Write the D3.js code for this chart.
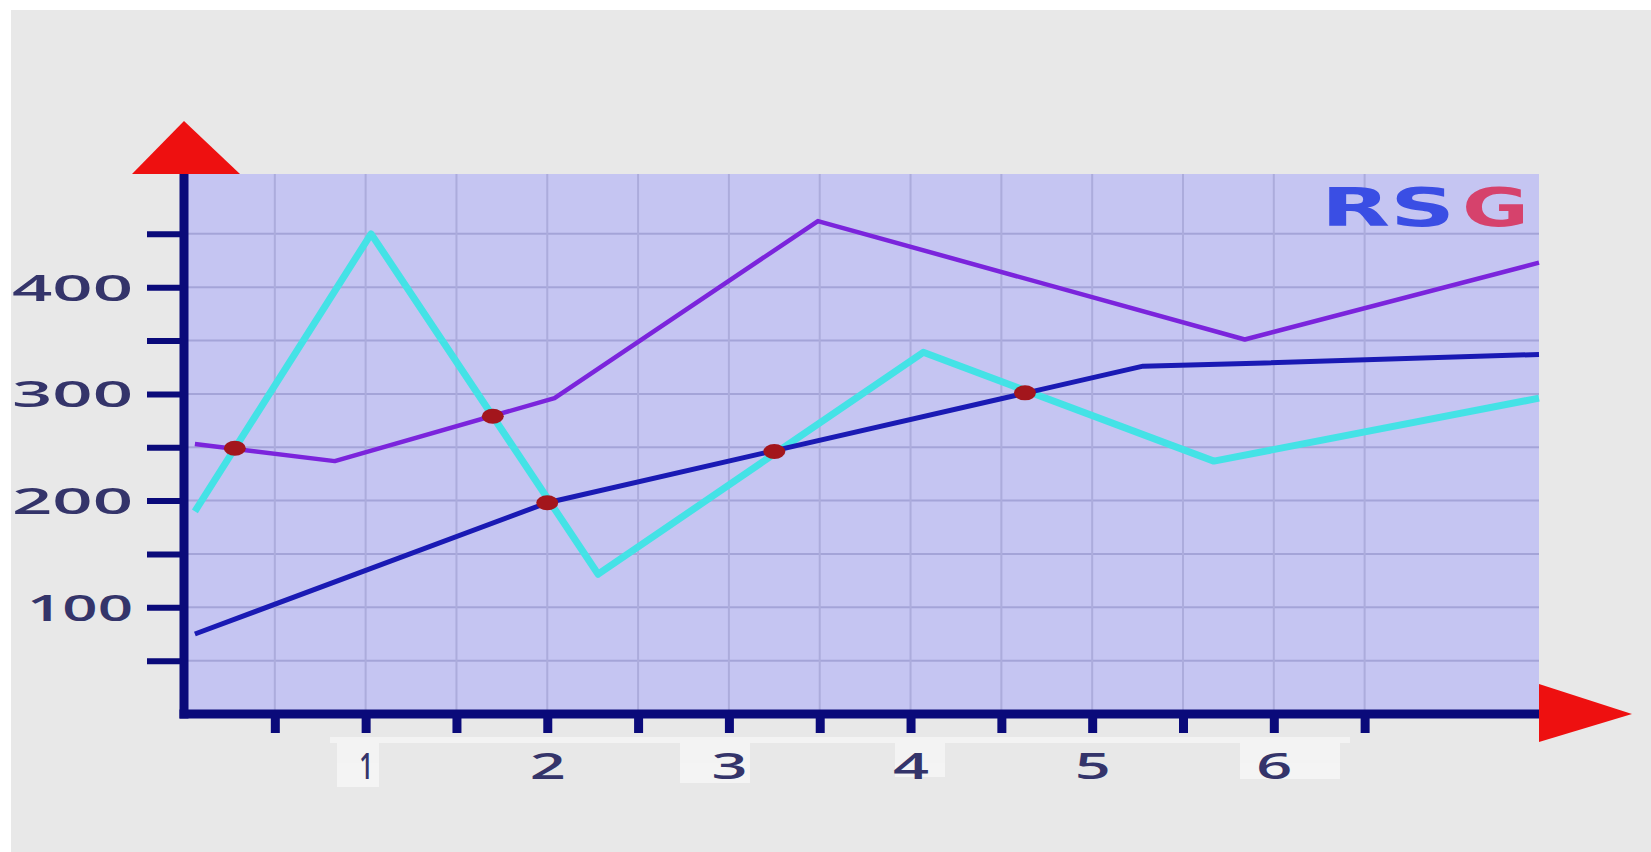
<!DOCTYPE html>
<html>
<head>
<meta charset="utf-8">
<script src="https://cdn.jsdelivr.net/npm/d3@7"></script>
<style>
  html, body { margin: 0; padding: 0; background: #e8e8e8; }
  svg { display: block; }
</style>
</head>
<body>
<svg id="chart" width="1651" height="852"></svg>
<script>
// ---- data ----
const purpleX = [0.06, 0.83, 2.04, 3.49, 5.84, 7.46];
const purpleY = [253, 237, 296, 462, 351, 423];
const cyanX   = [0.06, 1.03, 2.28, 4.07, 5.67, 7.46];
const cyanY   = [190, 450, 131, 339, 237, 296];
const blueX   = [0.06, 2.0, 5.28, 5.95, 7.46];
const blueY   = [75, 198, 326, 329, 337];
const dotX    = [0.28, 1.70, 2.0, 3.25, 4.63];
const dotY    = [249, 279, 198, 246, 301];
const xTicks  = [0.5, 1, 1.5, 2, 2.5, 3, 3.5, 4, 4.5, 5, 5.5, 6, 6.5];
const xLabels = [1, 2, 3, 4, 5, 6];
const yTicks  = [50, 100, 150, 200, 250, 300, 350, 400, 450];
const yLabels = [100, 200, 300, 400];
const brand   = ["RS", "G"];

// ---- layout ----
const svg = d3.select("#chart");
const axisX = 184, axisY = 714, plotRight = 1539, plotTop = 174;
const x = d3.scaleLinear().domain([0, 7.46]).range([axisX, plotRight]);
const y = d3.scaleLinear().domain([0, 500]).range([axisY, 180.5]);

// background artefacts (white borders)
svg.append("rect").attr("x", 0).attr("y", 0).attr("width", 1651).attr("height", 852).attr("fill", "#e8e8e8");
svg.append("rect").attr("x", 0).attr("y", 0).attr("width", 1651).attr("height", 10).attr("fill", "#ffffff");
svg.append("rect").attr("x", 0).attr("y", 0).attr("width", 11).attr("height", 852).attr("fill", "#ffffff");

// plot area
svg.append("rect")
  .attr("x", axisX + 4).attr("y", plotTop)
  .attr("width", plotRight - axisX - 4).attr("height", axisY - plotTop)
  .attr("fill", "#c5c5f2");

// grid
const grid = svg.append("g");
grid.selectAll("line.h").data(yTicks).join("line")
  .attr("x1", axisX).attr("x2", plotRight)
  .attr("y1", d => y(d)).attr("y2", d => y(d))
  .attr("stroke", "#a4a4d8").attr("stroke-width", 2);
grid.selectAll("line.v").data(xTicks).join("line")
  .attr("y1", plotTop).attr("y2", axisY)
  .attr("x1", d => x(d)).attr("x2", d => x(d))
  .attr("stroke", "#acacdc").attr("stroke-width", 2);

// label backing artefacts
const back = svg.append("g").attr("fill", "#ffffff").attr("opacity", 0.5);
back.append("rect").attr("x", 330).attr("y", 737).attr("width", 1020).attr("height", 6);
back.append("rect").attr("x", 337).attr("y", 737).attr("width", 42).attr("height", 50);
back.append("rect").attr("x", 680).attr("y", 737).attr("width", 70).attr("height", 46);
back.append("rect").attr("x", 895).attr("y", 737).attr("width", 50).attr("height", 40);
back.append("rect").attr("x", 1240).attr("y", 737).attr("width", 100).attr("height", 42);

// lines
const line = d3.line().x(d => x(d[0])).y(d => y(d[1]));
const series = [
  { xs: cyanX, ys: cyanY, color: "#44e2e6", w: 7 },
  { xs: purpleX, ys: purpleY, color: "#7b24dc", w: 4.5 },
  { xs: blueX, ys: blueY, color: "#1a1ab4", w: 5 }
];
series.forEach(s => {
  svg.append("path")
    .datum(d3.zip(s.xs, s.ys))
    .attr("d", line)
    .attr("fill", "none")
    .attr("stroke", s.color)
    .attr("stroke-width", s.w)
    .attr("stroke-linejoin", "round");
});

// dots
svg.selectAll("ellipse.dot").data(d3.zip(dotX, dotY)).join("ellipse")
  .attr("cx", d => x(d[0])).attr("cy", d => y(d[1]))
  .attr("rx", 11).attr("ry", 7.5)
  .attr("fill", "#a3161c");

const labelFont = "Open Sans, DejaVu Sans, sans-serif";

// y axis
const yAxis = svg.append("g").attr("transform", `translate(${axisX},0)`)
  .call(d3.axisLeft(y).tickValues(yTicks).tickSize(37).tickPadding(14)
    .tickFormat(d => yLabels.includes(d) ? String(d) : ""));
yAxis.select(".domain").remove();
yAxis.selectAll(".tick line").attr("stroke", "#0a0a7a").attr("stroke-width", 6);
yAxis.selectAll(".tick text")
  .attr("font-family", labelFont)
  .attr("font-weight", "600")
  .attr("font-size", 36)
  .attr("fill", "#34346a")
  .attr("dy", "0.36em")
  .attr("lengthAdjust", "spacingAndGlyphs")
  .attr("textLength", d => d === 100 ? 106 : 121);

// x axis
const xAxis = svg.append("g").attr("transform", `translate(0,${axisY})`)
  .call(d3.axisBottom(x).tickValues(xTicks).tickSize(19).tickPadding(20)
    .tickFormat(d => xLabels.includes(d) ? String(d) : ""));
xAxis.select(".domain").remove();
xAxis.selectAll(".tick line").attr("stroke", "#0a0a7a").attr("stroke-width", 9);
xAxis.selectAll(".tick text")
  .attr("font-family", labelFont)
  .attr("font-weight", "600")
  .attr("font-size", 36)
  .attr("fill", "#34346a")
  .attr("lengthAdjust", "spacingAndGlyphs")
  .attr("textLength", d => d === 1 ? 14 : 36);

// axis lines
svg.append("line").attr("x1", axisX).attr("x2", axisX).attr("y1", plotTop).attr("y2", axisY + 4.5)
  .attr("stroke", "#0a0a7a").attr("stroke-width", 9);
svg.append("line").attr("x1", axisX - 4.5).attr("x2", plotRight).attr("y1", axisY).attr("y2", axisY)
  .attr("stroke", "#0a0a7a").attr("stroke-width", 9);

// arrows
svg.append("path")
  .attr("d", `M${axisX},121 L240,${plotTop} L132,${plotTop} Z`)
  .attr("fill", "#ee1010");
svg.append("path")
  .attr("d", `M1632,${axisY} L${plotRight},742 L${plotRight},684 Z`)
  .attr("fill", "#ee1010");

// brand
svg.append("text").attr("x", 1321).attr("y", 226)
  .attr("font-family", "DejaVu Sans, sans-serif").attr("font-weight", "bold")
  .attr("font-size", 54).attr("fill", "#3a4ee4")
  .attr("lengthAdjust", "spacingAndGlyphs").attr("textLength", 134)
  .text(brand[0]);
svg.append("text").attr("x", 1462).attr("y", 226)
  .attr("font-family", "DejaVu Sans, sans-serif").attr("font-weight", "bold")
  .attr("font-size", 54).attr("fill", "#d6426c")
  .attr("lengthAdjust", "spacingAndGlyphs").attr("textLength", 67)
  .text(brand[1]);
</script>
</body>
</html>
